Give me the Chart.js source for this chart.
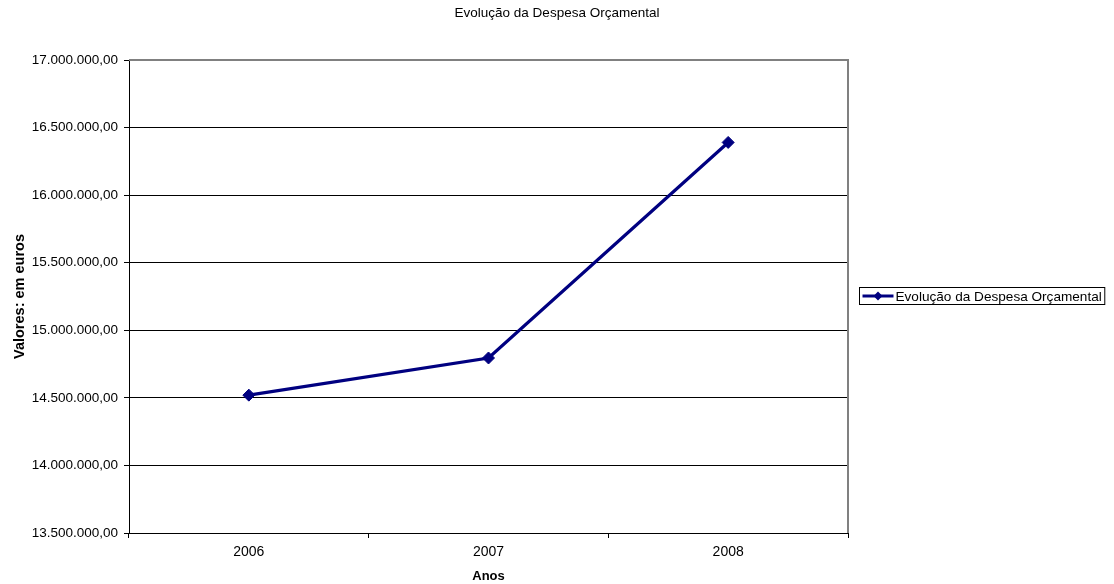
<!DOCTYPE html>
<html>
<head>
    <meta charset="utf-8" />
    <title>Evolução da Despesa Orçamental</title>
    <script src="https://cdn.jsdelivr.net/npm/chart.js@4/dist/chart.umd.min.js"></script>
    <style>
        html, body { margin: 0; padding: 0; background: #fff; }
        #wrap { width: 1114px; height: 584px; position: relative; }
    </style>
</head>
<body>
    <div id="wrap">
        <canvas id="chart-despesa"></canvas>
    </div>

    <script>
      // dados do gráfico
      var anos = ["2006", "2007", "2008"];
      var despesa = [14520000, 14795000, 16390000];
      var serieNome = "Evolução da Despesa Orçamental";
      var yMin = 13500000, yMax = 17000000, yPasso = 500000;

      var AZUL = "#000080";
      var FONTE = '"Liberation Sans", Arial, sans-serif';

      // 17000000 -> "17.000.000,00"
      function formatoEuro(v) {
        var s = Math.round(v).toString().replace(/\B(?=(\d{3})+(?!\d))/g, ".");
        return s + ",00";
      }

      // moldura cinzenta (topo e direita) da área do gráfico
      var moldura = {
        id: "moldura",
        beforeDatasetsDraw: function (chart) {
          var a = chart.chartArea, ctx = chart.ctx;
          ctx.save();
          ctx.strokeStyle = "#808080";
          ctx.lineWidth = 2;
          ctx.beginPath();
          ctx.moveTo(a.left, a.top);
          ctx.lineTo(a.right, a.top);
          ctx.lineTo(a.right, a.bottom);
          ctx.stroke();
          ctx.restore();
        }
      };

      // legenda à direita com caixa
      var legendaCaixa = {
        id: "legendaCaixa",
        afterDraw: function (chart) {
          var a = chart.chartArea, ctx = chart.ctx;
          var ds = chart.data.datasets[0];
          ctx.save();
          ctx.font = "13.6px " + FONTE;
          var tw = ctx.measureText(ds.label).width;
          var x0 = Math.round(a.right + 11) + 0.5;
          var cy = Math.round((a.top + a.bottom) / 2) - 1;
          var h = 17, w = 36 + tw + 3;
          ctx.strokeStyle = "#000";
          ctx.lineWidth = 1;
          ctx.strokeRect(x0, cy - h / 2, w, h);
          ctx.strokeStyle = ds.borderColor;
          ctx.lineWidth = 3;
          ctx.beginPath();
          ctx.moveTo(x0 + 3, cy);
          ctx.lineTo(x0 + 34, cy);
          ctx.stroke();
          ctx.fillStyle = ds.borderColor;
          ctx.beginPath();
          ctx.moveTo(x0 + 18.5, cy - 4.5);
          ctx.lineTo(x0 + 23, cy);
          ctx.lineTo(x0 + 18.5, cy + 4.5);
          ctx.lineTo(x0 + 14, cy);
          ctx.closePath();
          ctx.fill();
          ctx.fillStyle = "#000";
          ctx.textBaseline = "middle";
          ctx.textAlign = "left";
          ctx.fillText(ds.label, x0 + 36, cy + 1);
          ctx.restore();
        }
      };

      var ctx = document.getElementById("chart-despesa").getContext("2d");
      new Chart(ctx, {
        type: "line",
        data: {
          labels: anos,
          datasets: [{
            label: serieNome,
            data: despesa,
            borderColor: AZUL,
            backgroundColor: AZUL,
            borderWidth: 3.2,
            tension: 0,
            pointStyle: "rectRot",
            pointRadius: 6,
            pointBackgroundColor: AZUL,
            pointBorderColor: AZUL,
            pointBorderWidth: 1,
            fill: false
          }]
        },
        options: {
          responsive: true,
          maintainAspectRatio: false,
          animation: false,
          devicePixelRatio: 1,
          layout: { padding: 0 },
          plugins: {
            legend: { display: false },
            tooltip: { enabled: false },
            title: {
              display: true,
              text: "Evolução da Despesa Orçamental",
              color: "#000",
              font: { family: FONTE, size: 13.5, weight: "normal" },
              padding: { top: 5, bottom: 38.8 }
            }
          },
          scales: {
            x: {
              offset: true,
              afterFit: function (s) { s.height = 51; },
              grid: {
                offset: true,
                drawOnChartArea: false,
                drawTicks: true,
                tickLength: 5,
                color: "#000"
              },
              border: { color: "#000", width: 1 },
              ticks: {
                color: "#000",
                padding: 6,
                font: { family: FONTE, size: 14 }
              },
              title: {
                display: true,
                text: "Anos",
                color: "#000",
                font: { family: FONTE, size: 13, weight: "bold" },
                padding: { top: 0, bottom: 0 }
              }
            },
            y: {
              min: yMin,
              max: yMax,
              afterFit: function (s) { s.width = 129; },
              grid: {
                color: "#000",
                lineWidth: 1,
                tickLength: 5,
                drawTicks: true
              },
              border: { color: "#000", width: 1 },
              ticks: {
                stepSize: yPasso,
                color: "#000",
                padding: 6,
                font: { family: FONTE, size: 13.5 },
                callback: function (v) { return formatoEuro(v); }
              },
              title: {
                display: true,
                text: "Valores: em euros",
                color: "#000",
                font: { family: FONTE, size: 14.5, weight: "bold" },
                padding: { top: 11, bottom: 0 }
              }
            },
            // espaço reservado à direita para a legenda
            espaco: {
              type: "linear",
              position: "right",
              display: true,
              afterFit: function (s) { s.width = 266; },
              grid: { display: false, drawOnChartArea: false },
              border: { display: false },
              ticks: { display: false }
            }
          }
        },
        plugins: [moldura, legendaCaixa]
      });
    </script>
</body>
</html>
